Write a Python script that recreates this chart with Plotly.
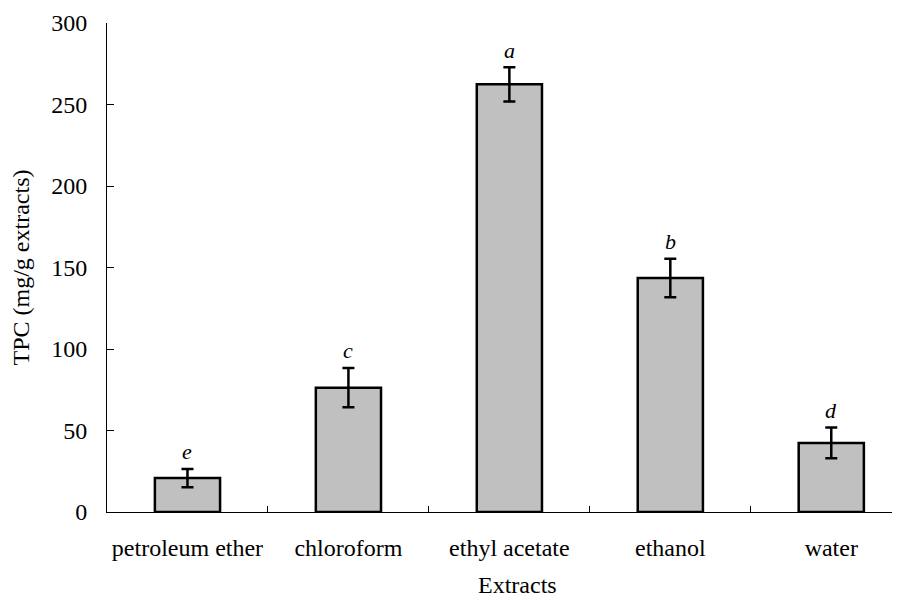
import plotly.graph_objects as go

categories = ["petroleum ether", "chloroform", "ethyl acetate", "ethanol", "water"]
tpc_mean = [20.8, 76.3, 262.4, 143.5, 42.4]
tpc_err = [5.6, 12.1, 10.5, 11.8, 9.5]
sig_letters = ["e", "c", "a", "b", "d"]
y_ticks = [0, 50, 100, 150, 200, 250, 300]

FONT = "Times New Roman, Liberation Serif, serif"

fig = go.Figure()
fig.add_trace(go.Bar(
    x=categories,
    y=tpc_mean,
    width=0.405,
    marker=dict(color="#C0C0C0", line=dict(color="black", width=2.5)),
    error_y=dict(type="data", array=tpc_err, visible=True,
                 color="black", thickness=2.5, width=6),
    showlegend=False,
))

for cat, m, e, lab in zip(categories, tpc_mean, tpc_err, sig_letters):
    fig.add_annotation(x=cat, y=m + e, text=lab, showarrow=False,
                       yanchor="middle", yshift=17,
                       font=dict(family=FONT, size=22, color="black", style="italic"))

fig.add_annotation(xref="paper", yref="paper", x=0.518, y=-0.15,
                   text="Extracts", showarrow=False,
                   xanchor="center", yanchor="middle",
                   font=dict(family=FONT, size=24, color="black"))

fig.update_layout(
    width=892, height=592,
    margin=dict(l=99, r=0, t=15, b=88),
    plot_bgcolor="white", paper_bgcolor="white",
    font=dict(family=FONT, size=24, color="black"),
)
fig.update_xaxes(
    type="category",
    range=[-0.5, 4.427],
    showline=True, linecolor="black", linewidth=1,
    ticks="inside", tickson="boundaries", ticklen=6, tickcolor="black",
    showgrid=False,
    ticklabelstandoff=14,
    automargin=False,
    tickfont=dict(family=FONT, size=24, color="black"),
)
fig.update_yaxes(
    range=[0, 300],
    tickvals=y_ticks,
    showline=True, linecolor="black", linewidth=1,
    ticks="inside", ticklen=7, tickcolor="black",
    showgrid=False, zeroline=False,
    ticklabelstandoff=14,
    automargin=False,
    tickfont=dict(family=FONT, size=24, color="black"),
    title=dict(text="TPC (mg/g extracts)", standoff=17,
               font=dict(family=FONT, size=24, color="black")),
)

fig.write_html("out.html")
